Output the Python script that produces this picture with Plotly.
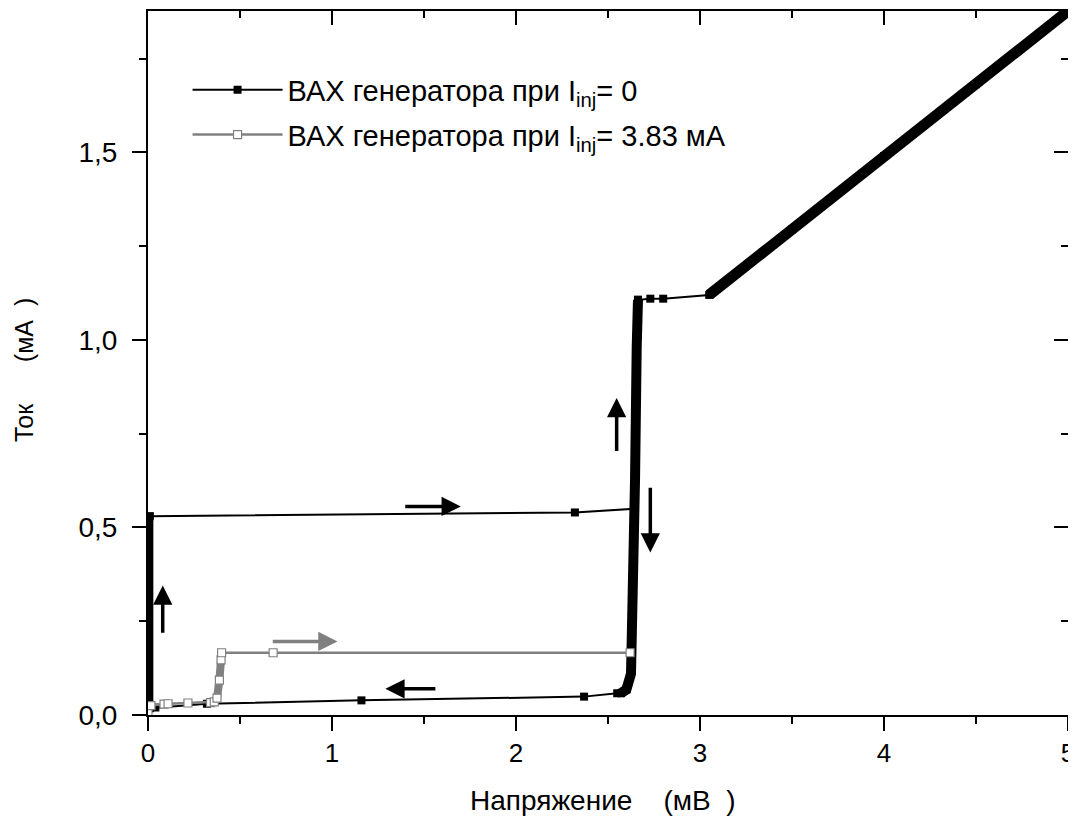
import plotly.graph_objects as go

# ---------------- data ----------------
# I_inj = 0 : forward sweep (key points)
v0_fwd = [0.01, 0.01, 2.32, 2.643, 2.647, 2.656, 2.663, 2.73, 2.80, 3.05, 3.50, 4.00, 4.50, 5.00]
i0_fwd = [0.02, 0.53, 0.54, 0.55, 0.63, 0.98, 1.107, 1.11, 1.11, 1.12, 1.295, 1.49, 1.682, 1.877]
# I_inj = 0 : return sweep
v0_ret = [2.663, 2.656, 2.647, 2.635, 2.625, 2.60, 2.57, 2.55, 2.37, 1.16, 0.32, 0.04, 0.01]
i0_ret = [1.107, 0.98, 0.63, 0.27, 0.11, 0.068, 0.058, 0.058, 0.049, 0.039, 0.030, 0.020, 0.018]
# dense (overlapping-marker) parts of the I_inj = 0 curve
band0_v = [0.01, 0.01]
band0_i = [0.02, 0.54]
bandA_v = [2.57, 2.60, 2.625, 2.635, 2.647, 2.656, 2.663]
bandA_i = [0.058, 0.068, 0.11, 0.27, 0.63, 0.98, 1.107]
bandB_v = [3.05, 3.50, 4.00, 4.50, 5.00]
bandB_i = [1.12, 1.295, 1.49, 1.682, 1.877]

# I_inj = 3.83 mA
v1 = [0.00, 0.016, 0.087, 0.109, 0.217, 0.34, 0.36, 0.375, 0.388, 0.397, 0.40, 0.68, 2.62]
i1 = [0.005, 0.025, 0.029, 0.030, 0.032, 0.033, 0.035, 0.045, 0.093, 0.147, 0.166, 0.166, 0.166]
band1_v = [0.36, 0.375, 0.388, 0.397, 0.40]
band1_i = [0.035, 0.045, 0.093, 0.147, 0.166]

# arrows: (tip V, tip I, tail V, tail I, colour)
arrows = [
    (0.08, 0.345, 0.08, 0.215, "black"),
    (1.70, 0.556, 1.39, 0.556, "black"),
    (1.29, 0.070, 1.57, 0.070, "black"),
    (1.03, 0.196, 0.67, 0.196, "#808080"),
    (2.547, 0.845, 2.547, 0.700, "black"),
    (2.73, 0.433, 2.73, 0.610, "black"),
]

x_ticks = [0, 1, 2, 3, 4, 5]
y_ticks = [0.0, 0.5, 1.0, 1.5]
y_tick_text = ["0,0", "0,5", "1,0", "1,5"]

name0 = "ВАХ генератора при I<sub>inj</sub>= 0"
name1 = "ВАХ генератора при I<sub>inj</sub>= 3.83 мА"
x_title = "Напряжение\u00a0\u00a0\u00a0\u00a0(мВ\u00a0\u00a0)"
y_title = "Ток\u00a0\u00a0\u00a0\u00a0\u00a0\u00a0(мА\u00a0\u00a0)"

FONT = "Liberation Sans, Arial, sans-serif"
GRAY = "#808080"

# the page places the figure 8 px from the window's top-left corner
W, H = 1068, 816
PL, PT, PR, PB = 148, 11, 1068, 715  # plot box in window pixels

fig = go.Figure()

# dense black bands
for bv, bi, w in [(band0_v, band0_i, 7), (bandA_v, bandA_i, 10), (bandB_v, bandB_i, 11)]:
    fig.add_trace(go.Scatter(x=bv, y=bi, mode="lines", line=dict(color="black", width=w),
                             showlegend=False, hoverinfo="skip"))

fig.add_trace(go.Scatter(x=v0_ret, y=i0_ret, mode="lines+markers",
                         line=dict(color="black", width=2),
                         marker=dict(symbol="square", size=8, color="black"),
                         showlegend=False, hoverinfo="skip"))
fig.add_trace(go.Scatter(x=v0_fwd, y=i0_fwd, mode="lines+markers", name=name0, legendgroup="a",
                         line=dict(color="black", width=2),
                         marker=dict(symbol="square", size=8, color="black")))

# gray curve
fig.add_trace(go.Scatter(x=band1_v, y=band1_i, mode="lines", line=dict(color=GRAY, width=8),
                         showlegend=False, hoverinfo="skip"))
fig.add_trace(go.Scatter(x=v1, y=i1, mode="lines+markers", name=name1, legendgroup="b",
                         line=dict(color=GRAY, width=2.5),
                         marker=dict(symbol="square", size=8, color="white",
                                     line=dict(color=GRAY, width=1.2))))

# dummy trace for mirrored axes
fig.add_trace(go.Scatter(x=[None], y=[None], xaxis="x2", yaxis="y2", showlegend=False,
                         hoverinfo="skip"))

for (tx, ty, ax_, ay_, col) in arrows:
    fig.add_annotation(x=tx, y=ty, ax=ax_, ay=ay_, xref="x", yref="y", axref="x", ayref="y",
                       showarrow=True, arrowhead=2, arrowsize=1.1, arrowwidth=3.5,
                       arrowcolor=col, standoff=0, text="")

axis_common = dict(showline=True, linecolor="black", linewidth=2, showgrid=False,
                   zeroline=False, tickcolor="black", tickwidth=2, ticklen=14)

fig.update_layout(
    width=W, height=H,
    margin=dict(l=PL - 8, r=W - (PR - 8), t=PT - 8, b=H - (PB - 8), autoexpand=False),
    paper_bgcolor="white", plot_bgcolor="white",
    font=dict(family=FONT, color="black"),
    showlegend=True,
    legend=dict(x=0.043, y=0.924, xanchor="left", yanchor="top",
                bgcolor="rgba(0,0,0,0)", font=dict(size=29, family=FONT),
                itemwidth=90, tracegroupgap=4),
    xaxis=dict(range=[0, 5], tickvals=x_ticks, ticks="outside",
               tickfont=dict(size=26, family=FONT),
               minor=dict(dtick=0.5, ticks="outside", ticklen=7, tickwidth=2, tickcolor="black"),
               **axis_common),
    yaxis=dict(range=[0, 1.877], tickvals=y_ticks, ticktext=y_tick_text, ticks="outside",
               tickfont=dict(size=28, family=FONT), ticklabelstandoff=9,
               minor=dict(dtick=0.25, ticks="outside", ticklen=7, tickwidth=2, tickcolor="black"),
               **axis_common),
    xaxis2=dict(overlaying="x", side="top", matches="x", range=[0, 5], tickvals=x_ticks,
                ticks="inside", showticklabels=False,
                minor=dict(dtick=0.5, ticks="inside", ticklen=7, tickwidth=2, tickcolor="black"),
                **axis_common),
    yaxis2=dict(overlaying="y", side="right", matches="y", range=[0, 1.877], tickvals=y_ticks,
                ticks="inside", showticklabels=False,
                minor=dict(dtick=0.25, ticks="inside", ticklen=7, tickwidth=2, tickcolor="black"),
                **axis_common),
)

pw, ph = PR - PL, PB - PT
fig.add_annotation(text=x_title, xref="paper", yref="paper",
                   x=(603 - PL) / pw, y=-(800 - PB) / ph, xanchor="center", yanchor="middle",
                   showarrow=False, font=dict(size=28, family=FONT))
fig.add_annotation(text=y_title, xref="paper", yref="paper",
                   x=-(PL - 24) / pw, y=(PB - 370) / ph, xanchor="center", yanchor="middle",
                   textangle=-90, showarrow=False, font=dict(size=25, family=FONT))

fig.write_html("out.html")
